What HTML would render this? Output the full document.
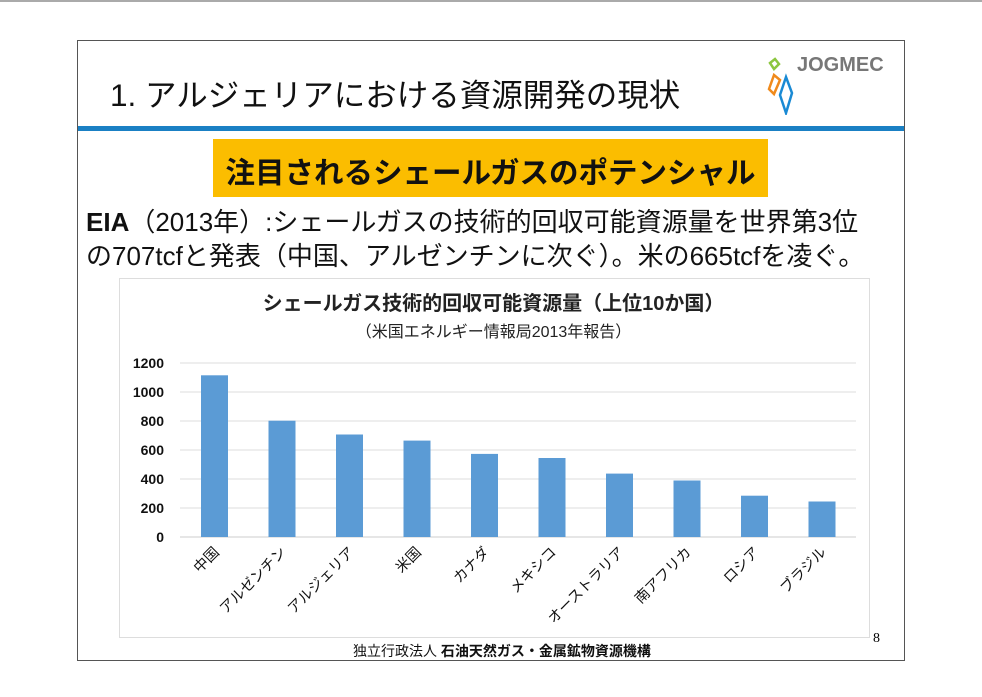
<!DOCTYPE html><html><head><meta charset="utf-8"><style>
body{margin:0;width:982px;height:697px;background:#fff;position:relative;overflow:hidden;font-family:"Liberation Sans","Noto Sans CJK JP",sans-serif}
.a{position:absolute;white-space:nowrap}
</style></head><body>
<div class="a" style="left:0;top:0;width:982px;height:2px;background:#aaa"></div>
<div class="a" style="left:77px;top:40px;width:826px;height:619px;border:1px solid #555"></div>
<div class="a" style="left:78px;top:126px;width:826px;height:5px;background:#1a80c4"></div>
<div class="a" style="left:110px;top:70px;font-size:31.5px;color:#111">1. アルジェリアにおける資源開発の現状</div>
<svg class="a" style="left:760px;top:55px" width="140" height="60"><path d="M10 8 l5 -4 l4 5 l-5 5z" fill="none" stroke="#8cc63f" stroke-width="2.5"/><path d="M14 20 l-5 14 l5 5 l6 -14z" fill="none" stroke="#f08a1c" stroke-width="2.5"/><path d="M26 22 l-6 18 l6 18 l6 -20z" fill="none" stroke="#1a8ad4" stroke-width="2.5"/></svg>
<div class="a" style="left:797px;top:54px;font-size:20px;font-weight:bold;color:#777">JOGMEC</div>
<div class="a" style="left:213px;top:139px;width:555px;height:58px;background:#fbbd00"></div>
<div class="a" style="left:213px;top:150px;width:555px;text-align:center;font-size:29.5px;font-weight:bold;color:#111">注目されるシェールガスのポテンシャル</div>
<div class="a" style="left:86px;top:205px;font-size:26px;color:#111;line-height:34px"><b>EIA</b>（2013年）:シェールガスの技術的回収可能資源量を世界第3位<br>の707tcfと発表（中国、アルゼンチンに次ぐ）。米の665tcfを凌ぐ。</div>
<div class="a" style="left:119px;top:278px;width:749px;height:358px;border:1px solid #ddd"></div>
<div class="a" style="left:119px;top:287px;width:749px;text-align:center;font-size:20px;font-weight:bold;color:#222">シェールガス技術的回収可能資源量（上位10か国）</div>
<div class="a" style="left:119px;top:318px;width:749px;text-align:center;font-size:16px;color:#222">（米国エネルギー情報局2013年報告）</div>
<svg class="a" style="left:0;top:0" width="982" height="697" font-family="Liberation Sans,Noto Sans CJK JP,sans-serif">
<g stroke="#ddd" stroke-width="1">
<line x1="180" x2="856" y1="363" y2="363"/><line x1="180" x2="856" y1="392" y2="392"/><line x1="180" x2="856" y1="421" y2="421"/><line x1="180" x2="856" y1="450" y2="450"/><line x1="180" x2="856" y1="479" y2="479"/><line x1="180" x2="856" y1="508" y2="508"/><line x1="180" x2="856" y1="537" y2="537" stroke="#ccc"/>
</g>
<g font-size="14" font-weight="bold" text-anchor="end" fill="#111">
<text x="164" y="368">1200</text><text x="164" y="397">1000</text><text x="164" y="426">800</text><text x="164" y="455">600</text><text x="164" y="484">400</text><text x="164" y="513">200</text><text x="164" y="542">0</text>
</g>
<g fill="#5b9bd5">
<rect x="201" y="375.3" width="27" height="161.7"/>
<rect x="268.5" y="420.7" width="27" height="116.3"/>
<rect x="336" y="434.5" width="27" height="102.5"/>
<rect x="403.5" y="440.6" width="27" height="96.4"/>
<rect x="471" y="453.9" width="27" height="83.1"/>
<rect x="538.5" y="458" width="27" height="79"/>
<rect x="606" y="473.6" width="27" height="63.4"/>
<rect x="673.5" y="480.5" width="27" height="56.5"/>
<rect x="741" y="495.7" width="27" height="41.3"/>
<rect x="808.5" y="501.5" width="27" height="35.5"/>
</g>
<g font-size="14.5" text-anchor="end" fill="#111">
<text transform="translate(220,553) rotate(-45)">中国</text>
<text transform="translate(287,553) rotate(-45)">アルゼンチン</text>
<text transform="translate(355,553) rotate(-45)">アルジェリア</text>
<text transform="translate(422,553) rotate(-45)">米国</text>
<text transform="translate(490,553) rotate(-45)">カナダ</text>
<text transform="translate(557,553) rotate(-45)">メキシコ</text>
<text transform="translate(625,553) rotate(-45)">オーストラリア</text>
<text transform="translate(692,553) rotate(-45)">南アフリカ</text>
<text transform="translate(760,553) rotate(-45)">ロシア</text>
<text transform="translate(827,553) rotate(-45)">ブラジル</text>
</g>
</svg>
<div class="a" style="left:873px;top:631px;font-size:14px;font-family:'Liberation Serif',serif">8</div>
<div class="a" style="left:353px;top:641px;font-size:14px;color:#111">独立行政法人 <b>石油天然ガス・金属鉱物資源機構</b></div>
</body></html>
